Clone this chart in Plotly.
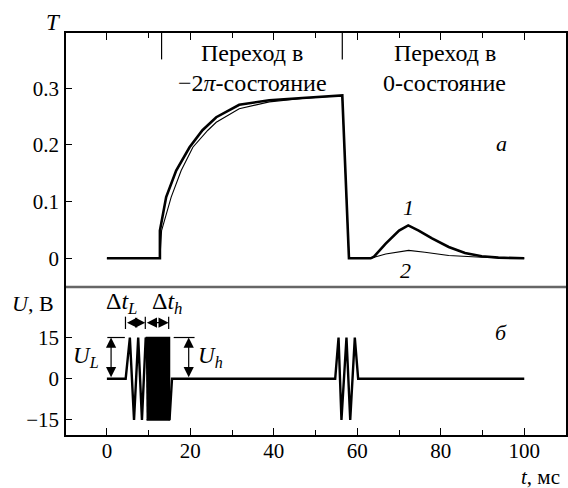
import plotly.graph_objects as go

# ---- data: panel a (transmission T vs t, ms) ----
t1 = [0, 12.7, 12.7, 14.2, 16.6, 19.8, 22.9, 26.2, 31.7, 38.9, 46.8, 56.4, 58.0,
      61, 63.2, 64.0, 66.8, 70.0, 72.2, 74.7, 77.9, 81.9, 85.8, 89.8, 93.8, 100]
T1 = [0, 0, 0.049, 0.108, 0.155, 0.196, 0.226, 0.249, 0.271, 0.279, 0.283, 0.2875, 0.0,
      0, 0, 0.003, 0.026, 0.049, 0.058, 0.049, 0.035, 0.020, 0.0094, 0.0035, 0.0012, 0]
t2 = [0, 12.7, 13.1, 15.4, 17.8, 20.6, 24.2, 26.2, 31.7, 38.9, 46.8, 56.4, 58.0,
      61, 63.2, 66.8, 72.3, 76.2, 81.9, 89.8, 100]
T2 = [0, 0, 0.049, 0.108, 0.155, 0.196, 0.226, 0.240, 0.264, 0.276, 0.282, 0.2875, 0.0,
      0, 0, 0.0076, 0.014, 0.0106, 0.005, 0.0018, 0]

# ---- data: panel б (voltage U vs t) ----
tu = [0, 4.5, 5.5, 6.5, 7.5, 8.4, 9.3, 15.0, 15.6, 54.7, 55.5, 56.2, 57.4, 58.3, 59.4, 60.2, 100]
U = [0, 0, 15, -15, 15, -15, 15, -15, 0, 0, 15, -15, 15, -15, 15, 0, 0]
block_t = [9.3, 15.0, 15.0, 9.5]
block_U = [15, 15, -15, -15]

xticks = [0, 20, 40, 60, 80, 100]
yt_top = [0, 0.1, 0.2, 0.3]
yt_top_lbl = ["0", "0.1", "0.2", "0.3"]
yt_bot = [-15, 0, 15]
yt_bot_lbl = ["−15", "0", "15"]

FONT = "Liberation Serif"
FS = 21

fig = go.Figure()
fig.add_trace(go.Scatter(x=t2, y=T2, mode="lines", line=dict(color="black", width=1.1),
                         xaxis="x2", yaxis="y2", hoverinfo="skip"))
fig.add_trace(go.Scatter(x=t1, y=T1, mode="lines", line=dict(color="black", width=2.6),
                         xaxis="x2", yaxis="y2", hoverinfo="skip"))
fig.add_trace(go.Scatter(x=block_t, y=block_U, mode="lines", fill="toself", fillcolor="black",
                         line=dict(color="black", width=1.5), xaxis="x", yaxis="y", hoverinfo="skip"))
fig.add_trace(go.Scatter(x=tu, y=U, mode="lines", line=dict(color="black", width=2.4),
                         xaxis="x", yaxis="y", hoverinfo="skip"))

XR = [-9.8, 110]
SPLIT = 0.3682
fig.update_layout(
    width=568, height=488,
    margin=dict(l=66, r=0, t=33, b=53),
    paper_bgcolor="white", plot_bgcolor="white",
    showlegend=False,
    font=dict(family=FONT, size=FS, color="black"),
    xaxis=dict(range=XR, domain=[0, 1], anchor="y", tickvals=xticks,
               ticks="inside", ticklen=7, tickcolor="black", tickwidth=1,
               minor=dict(tickvals=[10, 30, 50, 70, 90], ticks="inside", ticklen=5, tickcolor="black"),
               showline=True, linecolor="black", linewidth=1.5, mirror=False,
               showgrid=False, zeroline=False, tickfont=dict(family=FONT, size=FS),
               ticklabelstandoff=-4),
    xaxis2=dict(range=XR, domain=[0, 1], anchor="y2", side="top", matches="x",
                tickvals=xticks, ticks="inside", ticklen=7, tickcolor="black",
                minor=dict(tickvals=[10, 30, 50, 70, 90], ticks="inside", ticklen=5, tickcolor="black"),
                showticklabels=False, showline=True, linecolor="black", linewidth=1.5,
                showgrid=False, zeroline=False),
    yaxis=dict(range=[-20.5, 33.4], domain=[0, SPLIT], anchor="x", tickvals=yt_bot, ticktext=yt_bot_lbl,
               ticks="inside", ticklen=6, tickcolor="black", showline=True, linecolor="black",
               linewidth=1.5, mirror=True, showgrid=False, zeroline=False,
               tickfont=dict(family=FONT, size=FS), ticklabelstandoff=1),
    yaxis2=dict(range=[-0.0506, 0.3976], domain=[SPLIT, 1], anchor="x2", tickvals=yt_top,
                ticktext=yt_top_lbl, ticks="inside", ticklen=6, tickcolor="black", showline=True,
                linecolor="black", linewidth=1.5, mirror=True, showgrid=False, zeroline=False,
                tickfont=dict(family=FONT, size=FS), ticklabelstandoff=1),
)

shapes = []
# separator between panels
shapes.append(dict(type="line", xref="paper", yref="paper", x0=0, x1=1, y0=SPLIT, y1=SPLIT,
                   line=dict(color="#666666", width=2.5)))
# long separator ticks at top of panel a
for xs in [13.1, 56.4]:
    shapes.append(dict(type="line", xref="x2", yref="y2", x0=xs, x1=xs, y0=0.3976, y1=0.351,
                       line=dict(color="black", width=1.2)))
# U_L / U_h level lines
shapes.append(dict(type="line", xref="x", yref="y", x0=0.1, x1=4.3, y0=15, y1=15,
                   line=dict(color="black", width=1.2)))
shapes.append(dict(type="line", xref="x", yref="y", x0=16.0, x1=21.0, y0=15, y1=15,
                   line=dict(color="black", width=1.2)))
# delta t end bars
for xb in [4.45, 9.2, 14.8]:
    shapes.append(dict(type="line", xref="x", yref="y", x0=xb, x1=xb, y0=18.1, y1=22.6,
                       line=dict(color="black", width=1.2)))
fig.update_layout(shapes=shapes)

ann = []
def dbl_arrow(x0, y0, x1, y1):
    ann.append(dict(xref="x", yref="y", axref="x", ayref="y", x=x1, y=y1, ax=x0, ay=y0,
                    text="", showarrow=True, arrowside="end+start", arrowhead=2,
                    arrowsize=1.7, arrowwidth=1.2, arrowcolor="black"))

dbl_arrow(4.45, 20.4, 9.2, 20.4)
dbl_arrow(9.2, 20.4, 14.8, 20.4)
dbl_arrow(1.0, 0, 1.0, 15)
dbl_arrow(19.6, 0, 19.6, 15)

def txt(x, y, s, xref="x", yref="y", size=FS, xanchor="center"):
    ann.append(dict(xref=xref, yref=yref, x=x, y=y, text=s, showarrow=False,
                    xanchor=xanchor, yanchor="middle", font=dict(family=FONT, size=size)))

txt(3.5, 27.6, "Δ<i>t</i><sub><i>L</i></sub>", size=24)
txt(14.4, 27.6, "Δ<i>t</i><sub><i>h</i></sub>", size=24)
txt(-5.0, 8.0, "<i>U</i><sub><i>L</i></sub>", size=23)
txt(24.8, 8.0, "<i>U</i><sub><i>h</i></sub>", size=23)
txt(94.5, 17.0, "<i>б</i>", size=22)
txt(94.5, 0.203, "<i>а</i>", yref="y2", size=22)
txt(72.3, 0.089, "<i>1</i>", yref="y2", size=22)
txt(71.6, -0.021, "<i>2</i>", yref="y2", size=22)
txt(34.8, 0.362, "Переход в", yref="y2", size=24)
txt(34.8, 0.309, "−2<i>π</i>-состояние", yref="y2", size=24)
txt(81.0, 0.362, "Переход в", yref="y2", size=24)
txt(81.0, 0.309, "0-состояние", yref="y2", size=24)
# axis titles (paper coordinates so they are not dropped outside the axis range)
ann.append(dict(xref="paper", yref="paper", x=-0.026, y=1.025, text="<i>T</i>", showarrow=False,
                xanchor="center", yanchor="middle", font=dict(family=FONT, size=23)))
ann.append(dict(xref="paper", yref="paper", x=-0.066, y=0.328, text="<i>U</i>, В", showarrow=False,
                xanchor="center", yanchor="middle", font=dict(family=FONT, size=22)))
ann.append(dict(xref="paper", yref="paper", x=0.948, y=-0.104, text="<i>t</i>, мс", showarrow=False,
                xanchor="center", yanchor="middle", font=dict(family=FONT, size=21)))
fig.update_layout(annotations=ann)

fig.write_html("out.html", config={"displayModeBar": False},
               post_script="document.body.style.margin='0';document.body.style.overflow='hidden';")
